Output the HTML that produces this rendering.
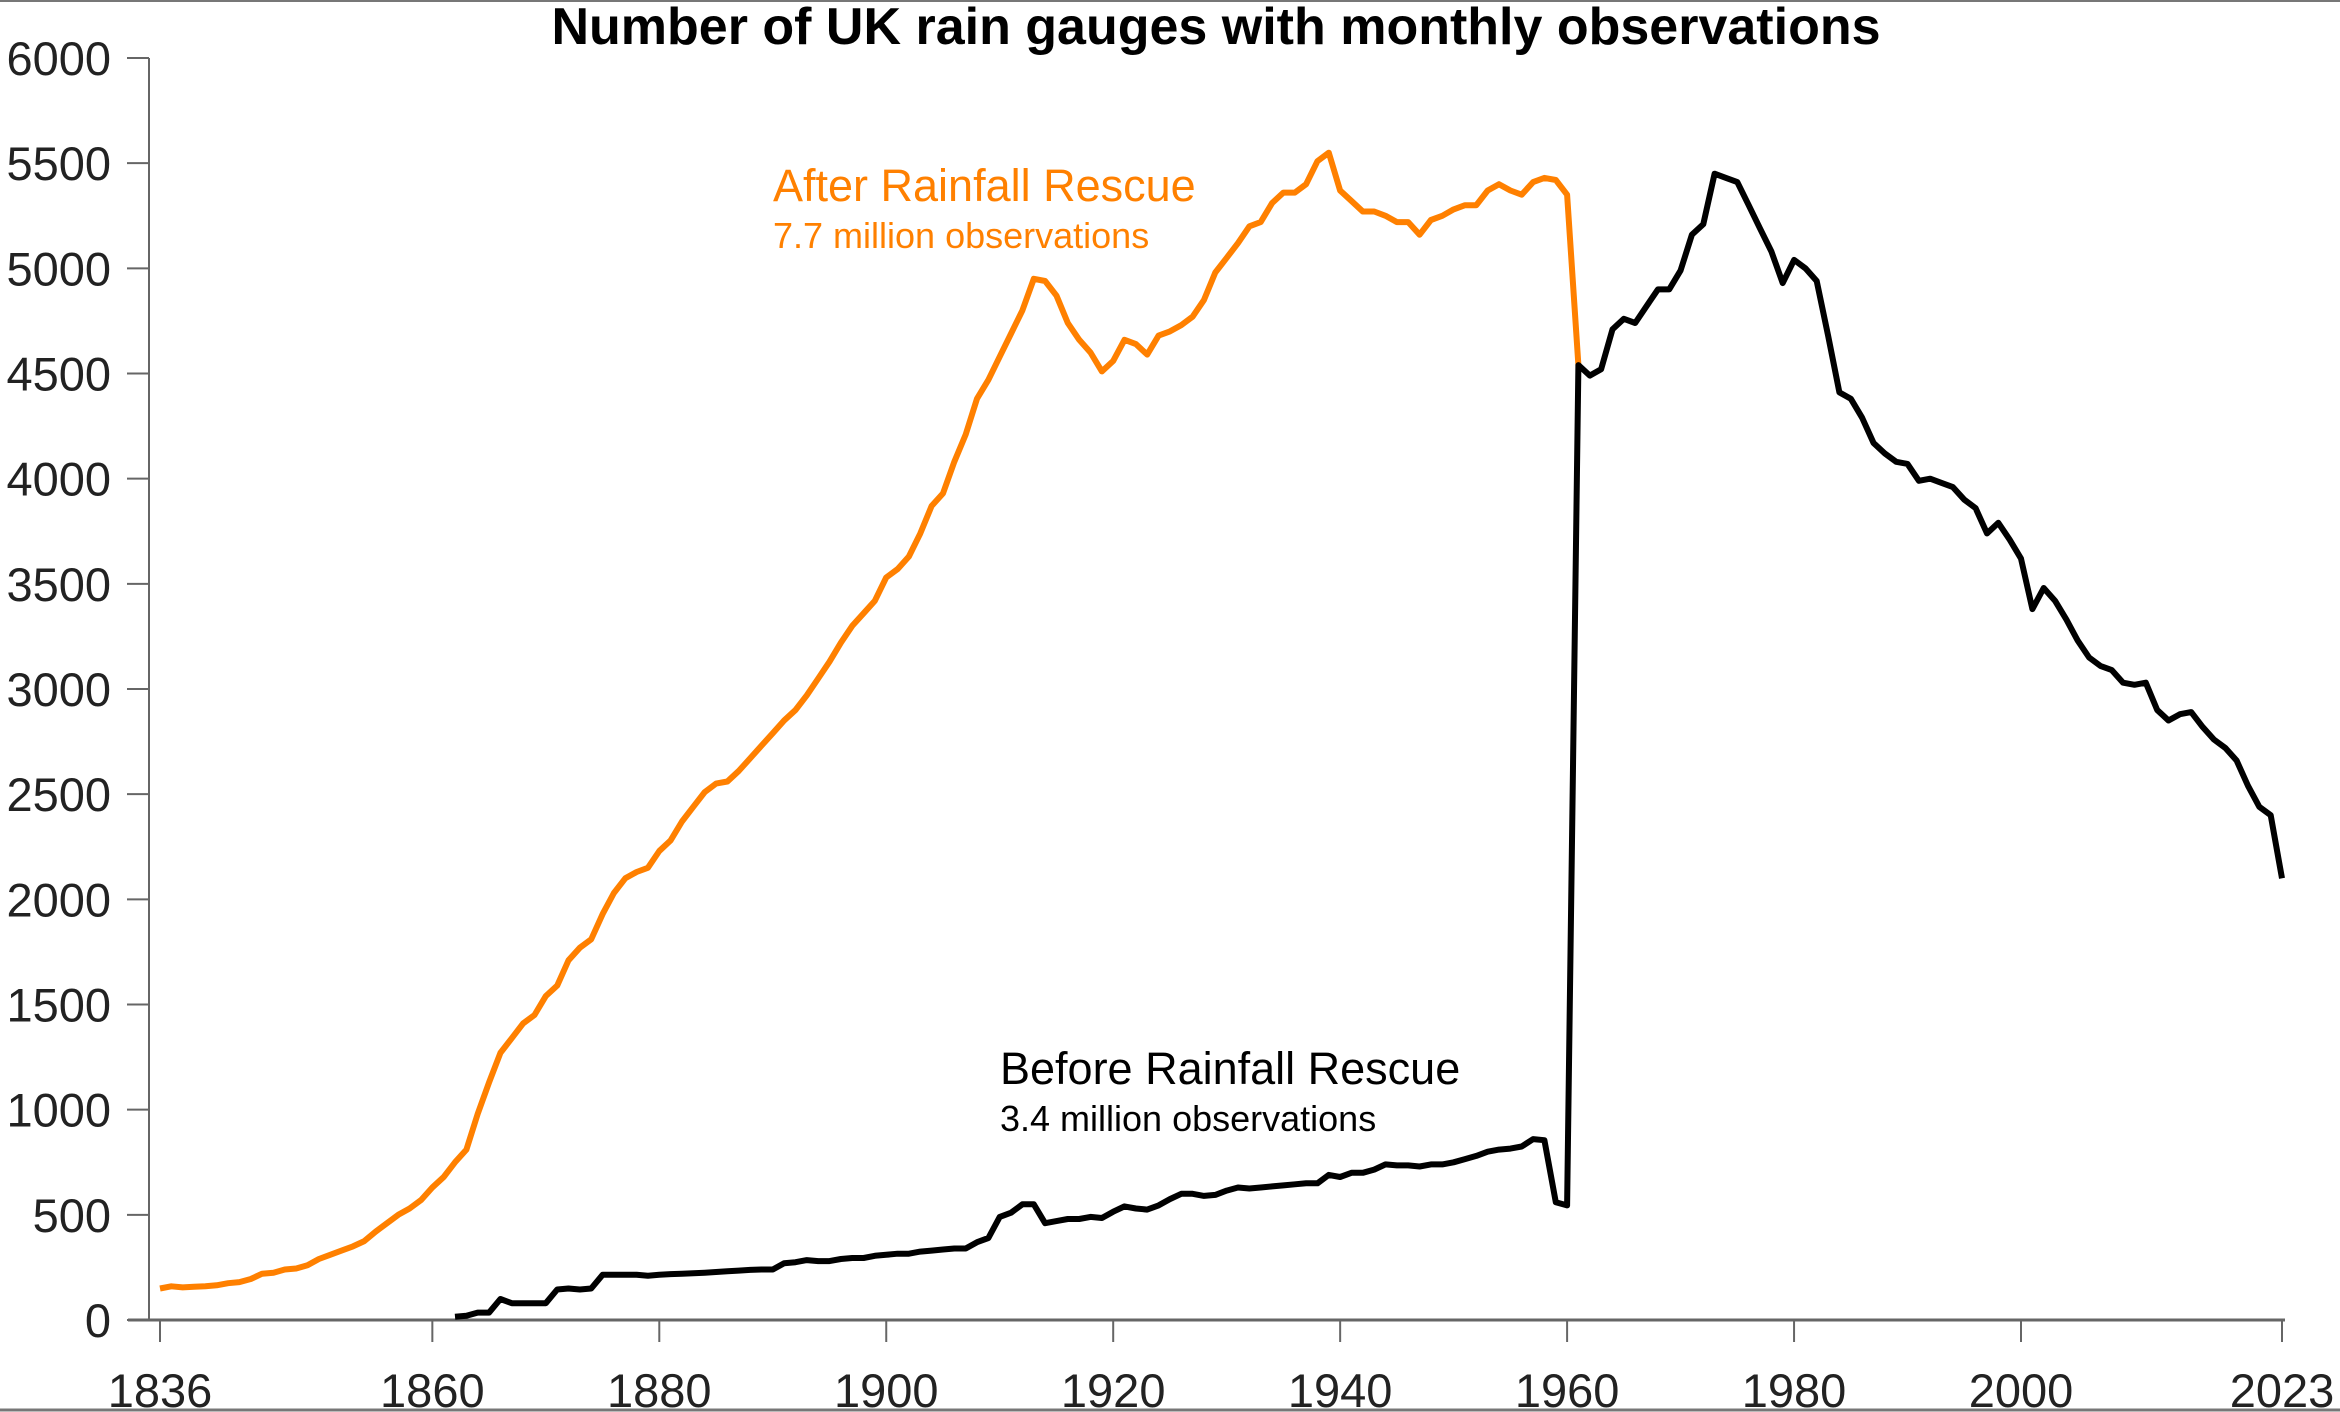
<!DOCTYPE html>
<html><head><meta charset="utf-8"><style>
html,body{margin:0;padding:0;background:#fff}
svg{display:block}
text{font-family:"Liberation Sans",sans-serif}
</style></head><body>
<svg id="chart" width="2340" height="1412" xmlns="http://www.w3.org/2000/svg">
<line x1="0" y1="1" x2="2340" y2="1" stroke="#777" stroke-width="2"/>
<line x1="0" y1="1410" x2="2340" y2="1410" stroke="#777" stroke-width="3"/>
<text x="1216" y="44" font-size="52" font-weight="bold" text-anchor="middle" fill="#000">Number of UK rain gauges with monthly observations</text>
<g id="axes"></g>
<g id="series"></g>
<text x="773" y="201" font-size="45" fill="#ff8000">After Rainfall Rescue</text>
<text x="773" y="248" font-size="36" fill="#ff8000">7.7 million observations</text>
<text x="1000" y="1084" font-size="45" fill="#000">Before Rainfall Rescue</text>
<text x="1000" y="1131" font-size="36" fill="#000">3.4 million observations</text>
</svg>
<script>
const afterStart = 1836;
const afterValues = [150,160,155,158,160,165,175,180,195,220,225,240,245,260,290,310,330,350,375,420,460,500,530,570,630,680,750,810,980,1130,1270,1340,1410,1450,1540,1590,1710,1770,1810,1930,2030,2100,2130,2150,2230,2280,2370,2440,2510,2550,2560,2610,2670,2730,2790,2850,2900,2970,3050,3130,3220,3300,3360,3420,3530,3570,3630,3740,3870,3930,4080,4210,4380,4470,4580,4690,4800,4950,4940,4870,4740,4660,4600,4510,4560,4660,4640,4590,4680,4700,4730,4770,4850,4980,5050,5120,5200,5220,5310,5360,5360,5400,5510,5550,5370,5320,5270,5270,5250,5220,5220,5160,5230,5250,5280,5300,5300,5370,5400,5370,5350,5410,5430,5420,5350,4540];
const beforeStart = 1862;
const beforeValues = [15,20,35,35,100,80,80,80,80,145,150,145,150,215,215,215,215,210,215,218,220,222,225,228,232,235,238,240,240,270,275,285,280,280,290,295,295,305,310,315,315,325,330,335,340,340,370,390,490,510,550,550,460,470,480,480,490,485,515,540,530,525,545,575,600,600,590,595,615,630,625,630,635,640,645,650,650,690,680,700,700,715,740,735,735,730,740,740,750,765,780,800,810,815,825,860,855,560,545,4540,4490,4520,4710,4760,4740,4820,4900,4900,4990,5160,5210,5450,5430,5410,5300,5190,5080,4930,5040,5000,4940,4680,4410,4380,4290,4170,4120,4080,4070,3990,4000,3980,3960,3900,3860,3740,3790,3710,3620,3380,3480,3420,3330,3230,3150,3110,3090,3030,3020,3030,2900,2850,2880,2890,2820,2760,2720,2660,2540,2440,2400,2100];
const xTicks = [1836,1860,1880,1900,1920,1940,1960,1980,2000,2023];
const yTicks = [0,500,1000,1500,2000,2500,3000,3500,4000,4500,5000,5500,6000];

const NS="http://www.w3.org/2000/svg";
const xs = y => 160 + (y-1836)*(2282-160)/187;
const ys = v => 1320 - v*(1320-58)/6000;
function mk(tag, attrs, parent){const e=document.createElementNS(NS,tag);for(const k in attrs)e.setAttribute(k,attrs[k]);parent.appendChild(e);return e;}
const axes=document.getElementById('axes'), series=document.getElementById('series');
let e=mk('line',{x1:149,y1:58,x2:149,y2:1321,stroke:'#666','stroke-width':2},axes);


e=mk('line',{x1:128,y1:1320,x2:2285,y2:1320,stroke:'#666','stroke-width':3},axes);


yTicks.forEach(v=>{
  const t=mk('line',{x1:127,y1:ys(v),x2:149,y2:ys(v),stroke:'#666','stroke-width':2},axes);
  
  
  const l=mk('text',{x:111,y:ys(v)+17,'font-size':47,'text-anchor':'end',fill:'#222'},axes);
  l.textContent=v;
  
  
});
xTicks.forEach(y=>{
  const t=mk('line',{x1:xs(y),y1:1320,x2:xs(y),y2:1342,stroke:'#666','stroke-width':2},axes);
  
  
  const l=mk('text',{x:xs(y),y:1407,'font-size':47,'text-anchor':'middle',fill:'#222'},axes);
  l.textContent=y;
  
  
});
function pts(start, vals){return vals.map((v,i)=>xs(start+i).toFixed(1)+','+ys(v).toFixed(1)).join(' ');}
const a=mk('polyline',{points:pts(afterStart,afterValues),fill:'none',stroke:'#ff8000','stroke-width':6,'stroke-linejoin':'round'},series);


const b=mk('polyline',{points:pts(beforeStart,beforeValues),fill:'none',stroke:'#000','stroke-width':6,'stroke-linejoin':'round'},series);


</script>
</body></html>
